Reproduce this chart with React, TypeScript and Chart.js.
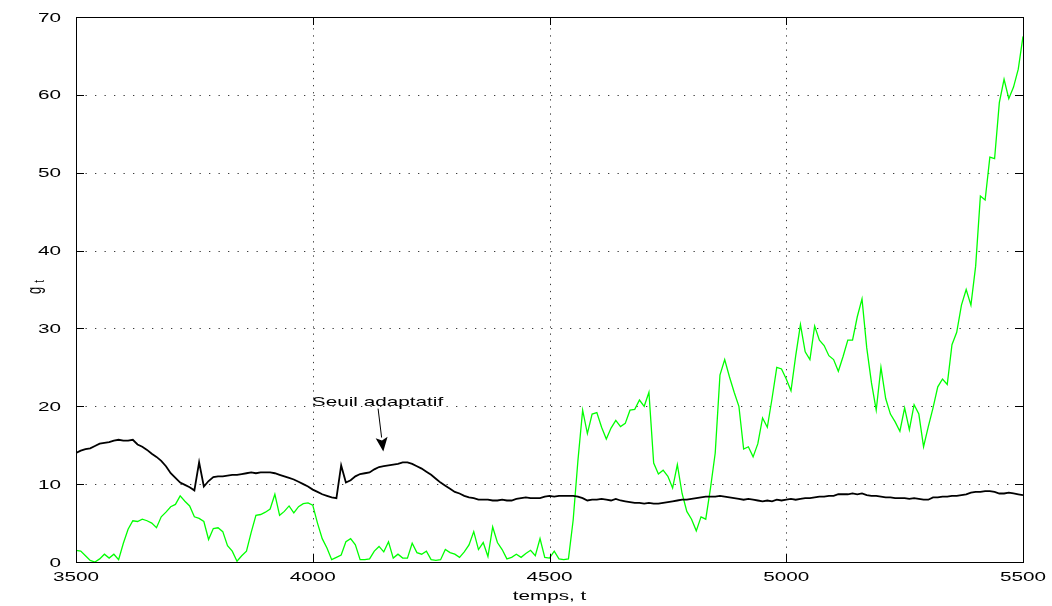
import React, { useEffect, useRef } from 'react';
import { Chart, registerables } from 'chart.js';

Chart.register(...registerables);

// ---- data ----
const T_START = 3500;
const T_STEP = 10;

// green series g_t, one value every 10 time units from 3500 to 5500
const gSignal = [
  1.5, 1.4, 0.8, 0.2, 0.0, 0.4, 1.0, 0.5, 1.0, 0.3,
  2.4, 4.2, 5.3, 5.2, 5.5, 5.3, 5.0, 4.4, 5.8, 6.4,
  7.1, 7.4, 8.5, 7.8, 7.2, 5.8, 5.6, 5.2, 2.9, 4.3,
  4.4, 3.9, 2.1, 1.4, 0.1, 0.8, 1.4, 3.8, 6.0, 6.1,
  6.4, 6.8, 8.7, 6.0, 6.5, 7.2, 6.3, 7.1, 7.5, 7.6,
  7.3, 5.0, 3.0, 1.8, 0.3, 0.6, 0.9, 2.6, 3.0, 2.2,
  0.3, 0.3, 0.4, 1.4, 2.0, 1.3, 2.6, 0.5, 1.0, 0.5,
  0.5, 2.4, 1.2, 1.0, 1.4, 0.3, 0.2, 0.3, 1.6, 1.2,
  1.0, 0.6, 1.3, 2.2, 3.9, 1.6, 2.5, 0.7, 4.5, 2.5,
  1.6, 0.4, 0.6, 1.0, 0.6, 1.1, 1.5, 0.8, 3.0, 0.6,
  0.5, 1.4, 0.4, 0.3, 0.4, 5.4, 13.0, 19.5, 16.5, 19.0,
  19.2, 17.3, 15.8, 17.2, 18.2, 17.4, 17.8, 19.5, 19.6, 20.8,
  20.0, 21.8, 12.7, 11.3, 11.8, 11.0, 9.5, 12.5, 8.8, 6.5,
  5.5, 4.0, 5.8, 5.5, 9.5, 14.0, 24.0, 26.0, 23.8, 21.8,
  20.0, 14.5, 14.8, 13.5, 15.2, 18.5, 17.3, 21.0, 25.0, 24.8,
  23.5, 22.0, 26.5, 30.5, 27.0, 26.0, 30.3, 28.5, 27.8, 26.5,
  26.0, 24.5, 26.4, 28.5, 28.5, 31.5, 33.8, 27.5, 23.0, 19.5,
  25.0, 21.0, 19.0, 18.0, 16.8, 19.8, 17.0, 20.2, 19.0, 14.8,
  17.4, 19.8, 22.5, 23.5, 22.8, 27.9, 29.5, 33.0, 35.0, 33.0,
  38.0, 47.0, 46.5, 52.0, 51.8, 59.0, 62.0, 59.5, 61.0, 63.3,
  67.5,
];

// black series: adaptive threshold, same sampling
const seuil = [
  14.0, 14.3, 14.5, 14.6, 14.9, 15.2, 15.3, 15.4, 15.6, 15.7,
  15.6, 15.6, 15.7, 15.1, 14.8, 14.4, 13.9, 13.5, 13.0, 12.3,
  11.4, 10.8, 10.2, 9.9, 9.6, 9.2, 12.8, 9.7, 10.4, 10.9,
  11.0, 11.0, 11.1, 11.2, 11.2, 11.3, 11.4, 11.5, 11.4, 11.5,
  11.5, 11.5, 11.4, 11.2, 11.0, 10.8, 10.6, 10.3, 10.0, 9.7,
  9.3, 9.0, 8.7, 8.5, 8.3, 8.2, 12.4, 10.2, 10.5, 11.0,
  11.3, 11.4, 11.5, 11.9, 12.2, 12.3, 12.4, 12.5, 12.6, 12.8,
  12.8, 12.6, 12.3, 12.0, 11.6, 11.2, 10.7, 10.2, 9.8, 9.4,
  9.0, 8.8, 8.5, 8.3, 8.2, 8.0, 8.0, 8.0, 7.9, 7.9,
  8.0, 7.9, 7.9, 8.1, 8.2, 8.3, 8.2, 8.2, 8.2, 8.4,
  8.5, 8.4, 8.5, 8.5, 8.5, 8.5, 8.4, 8.2, 7.9, 8.0,
  8.0, 8.1, 8.0, 7.9, 8.1, 7.9, 7.8, 7.7, 7.6, 7.6,
  7.5, 7.6, 7.5, 7.5, 7.6, 7.7, 7.8, 7.9, 8.0, 8.0,
  8.1, 8.2, 8.3, 8.4, 8.4, 8.4, 8.5, 8.4, 8.3, 8.2,
  8.1, 8.0, 8.1, 8.0, 7.9, 7.8, 7.9, 7.8, 8.0, 7.9,
  8.0, 8.1, 8.0, 8.1, 8.2, 8.2, 8.3, 8.4, 8.4, 8.5,
  8.5, 8.7, 8.7, 8.7, 8.8, 8.7, 8.8, 8.6, 8.5, 8.5,
  8.4, 8.3, 8.3, 8.2, 8.2, 8.2, 8.1, 8.2, 8.1, 8.0,
  8.0, 8.3, 8.3, 8.4, 8.4, 8.5, 8.5, 8.6, 8.7, 8.9,
  9.0, 9.0, 9.1, 9.1, 9.0, 8.8, 8.8, 8.9, 8.8, 8.7,
  8.6,
];

const X_TICKS = [3500, 4000, 4500, 5000, 5500];
const Y_TICKS = [0, 10, 20, 30, 40, 50, 60, 70];
const X_TITLE = 'temps, t';
const Y_TITLE = 'g';
const Y_TITLE_SUB = 't';
const ANNOT_TEXT = 'Seuil adaptatif';
const ANNOT_TEXT_AT = [3998, 20.0];
const ARROW_FROM = [4138, 19.7];
const ARROW_TO = [4149, 14.2];

// ---- styling ----
const W = 1052;
const H = 606;
const SX = 1.62; // horizontal stretch of the reference's text
const FONT_FAMILY = '"Liberation Sans", Arial, Helvetica, sans-serif';
const FONT = `12.8px ${FONT_FAMILY}`;
const FONT_SUB = `9.5px ${FONT_FAMILY}`;
const TICK_LEN = 8;

function sText(ctx: CanvasRenderingContext2D, text: string, x: number, y: number, align: CanvasTextAlign, baseline: CanvasTextBaseline, font = FONT) {
  ctx.save();
  ctx.translate(x, y);
  ctx.scale(SX, 1);
  ctx.font = font;
  ctx.fillStyle = '#000';
  ctx.textAlign = align;
  ctx.textBaseline = baseline;
  ctx.fillText(text, 0, 0);
  ctx.restore();
}

function rText(ctx: CanvasRenderingContext2D, text: string, x: number, y: number, font: string) {
  ctx.save();
  ctx.translate(x, y);
  ctx.scale(SX, 1);
  ctx.rotate(-Math.PI / 2);
  ctx.font = font;
  ctx.fillStyle = '#000';
  ctx.textAlign = 'center';
  ctx.textBaseline = 'alphabetic';
  ctx.fillText(text, 0, 0);
  ctx.restore();
}

const matlabAxes = {
  id: 'matlabAxes',
  beforeDatasetsDraw(chart: any) {
    const { ctx, chartArea: a, scales } = chart;
    const xs = scales.x;
    const ys = scales.y;
    ctx.save();
    ctx.strokeStyle = '#3a3a3a';
    ctx.lineWidth = 1;
    ctx.setLineDash([1.3, 8.2]);
    Y_TICKS.forEach((v) => {
      if (v === Y_TICKS[0] || v === Y_TICKS[Y_TICKS.length - 1]) return;
      const y = Math.round(ys.getPixelForValue(v)) + 0.5;
      ctx.beginPath();
      ctx.moveTo(a.left, y);
      ctx.lineTo(a.right, y);
      ctx.stroke();
    });
    ctx.setLineDash([1.3, 5.8]);
    X_TICKS.forEach((v) => {
      if (v === X_TICKS[0] || v === X_TICKS[X_TICKS.length - 1]) return;
      const x = Math.round(xs.getPixelForValue(v)) + 0.5;
      ctx.beginPath();
      ctx.moveTo(x, a.bottom);
      ctx.lineTo(x, a.top);
      ctx.stroke();
    });
    ctx.restore();
  },
  afterDatasetsDraw(chart: any) {
    const { ctx, chartArea: a, scales } = chart;
    const xs = scales.x;
    const ys = scales.y;
    ctx.save();
    ctx.setLineDash([]);
    ctx.strokeStyle = '#000';
    ctx.lineWidth = 1;
    ctx.strokeRect(Math.round(a.left) + 0.5, Math.round(a.top) + 0.5, Math.round(a.right - a.left), Math.round(a.bottom - a.top));
    ctx.beginPath();
    X_TICKS.forEach((v) => {
      const x = Math.round(xs.getPixelForValue(v)) + 0.5;
      ctx.moveTo(x, a.bottom);
      ctx.lineTo(x, a.bottom - TICK_LEN);
      ctx.moveTo(x, a.top);
      ctx.lineTo(x, a.top + TICK_LEN);
    });
    Y_TICKS.forEach((v) => {
      const y = Math.round(ys.getPixelForValue(v)) + 0.5;
      ctx.moveTo(a.left, y);
      ctx.lineTo(a.left + TICK_LEN, y);
      ctx.moveTo(a.right, y);
      ctx.lineTo(a.right - TICK_LEN, y);
    });
    ctx.stroke();
    ctx.restore();

    X_TICKS.forEach((v) => {
      sText(ctx, String(v), xs.getPixelForValue(v), a.bottom + 19, 'center', 'alphabetic');
    });
    Y_TICKS.forEach((v) => {
      sText(ctx, String(v), a.left - 15, ys.getPixelForValue(v) + 1, 'right', 'middle');
    });

    sText(ctx, X_TITLE, (a.left + a.right) / 2, H - 6, 'center', 'alphabetic');
    const yMid = (a.top + a.bottom) / 2;
    rText(ctx, Y_TITLE, 41, yMid + 1, FONT);
    rText(ctx, Y_TITLE_SUB, 44, yMid - 8, FONT_SUB);

    sText(ctx, ANNOT_TEXT, xs.getPixelForValue(ANNOT_TEXT_AT[0]), ys.getPixelForValue(ANNOT_TEXT_AT[1]), 'left', 'alphabetic');
    const x0 = xs.getPixelForValue(ARROW_FROM[0]);
    const y0 = ys.getPixelForValue(ARROW_FROM[1]);
    const x1 = xs.getPixelForValue(ARROW_TO[0]);
    const y1 = ys.getPixelForValue(ARROW_TO[1]);
    const ang = Math.atan2(y1 - y0, x1 - x0);
    const headLen = 14;
    const headHalf = 6;
    const bx = x1 - headLen * Math.cos(ang);
    const by = y1 - headLen * Math.sin(ang);
    ctx.save();
    ctx.strokeStyle = '#000';
    ctx.fillStyle = '#000';
    ctx.lineWidth = 1;
    ctx.beginPath();
    ctx.moveTo(x0, y0);
    ctx.lineTo(bx, by);
    ctx.stroke();
    ctx.beginPath();
    ctx.moveTo(x1, y1);
    ctx.lineTo(bx + headHalf * Math.sin(ang), by - headHalf * Math.cos(ang));
    ctx.lineTo(bx + 3 * Math.cos(ang), by + 3 * Math.sin(ang));
    ctx.lineTo(bx - headHalf * Math.sin(ang), by + headHalf * Math.cos(ang));
    ctx.closePath();
    ctx.fill();
    ctx.restore();
  },
};

export default function App() {
  const canvasRef = useRef<HTMLCanvasElement | null>(null);

  useEffect(() => {
    const canvas = canvasRef.current;
    if (!canvas) return;
    const toPoints = (arr: number[]) => arr.map((v, i) => ({ x: T_START + i * T_STEP, y: v }));
    const chart = new Chart(canvas, {
      type: 'line',
      data: {
        datasets: [
          {
            label: 'Seuil adaptatif',
            data: toPoints(seuil),
            borderColor: '#000000',
            borderWidth: 1.8,
            pointRadius: 0,
            tension: 0,
            fill: false,
          },
          {
            label: 'g_t',
            data: toPoints(gSignal),
            borderColor: '#00ff00',
            borderWidth: 1.3,
            pointRadius: 0,
            tension: 0,
            fill: false,
          },
        ],
      },
      options: {
        responsive: false,
        animation: false,
        devicePixelRatio: 1,
        events: [],
        layout: { padding: { left: 76, right: 29, top: 17, bottom: 44 } },
        scales: {
          x: { type: 'linear', min: 3500, max: 5500, display: false },
          y: { type: 'linear', min: 0, max: 70, display: false },
        },
        plugins: {
          legend: { display: false },
          tooltip: { enabled: false },
          title: { display: false },
        },
      },
      plugins: [matlabAxes],
    });
    return () => chart.destroy();
  }, []);

  return (
    <div style={{ position: 'absolute', left: 0, top: 0, width: W, height: H, background: '#fff' }}>
      <canvas ref={canvasRef} width={W} height={H} style={{ width: W, height: H, display: 'block' }} />
    </div>
  );
}
